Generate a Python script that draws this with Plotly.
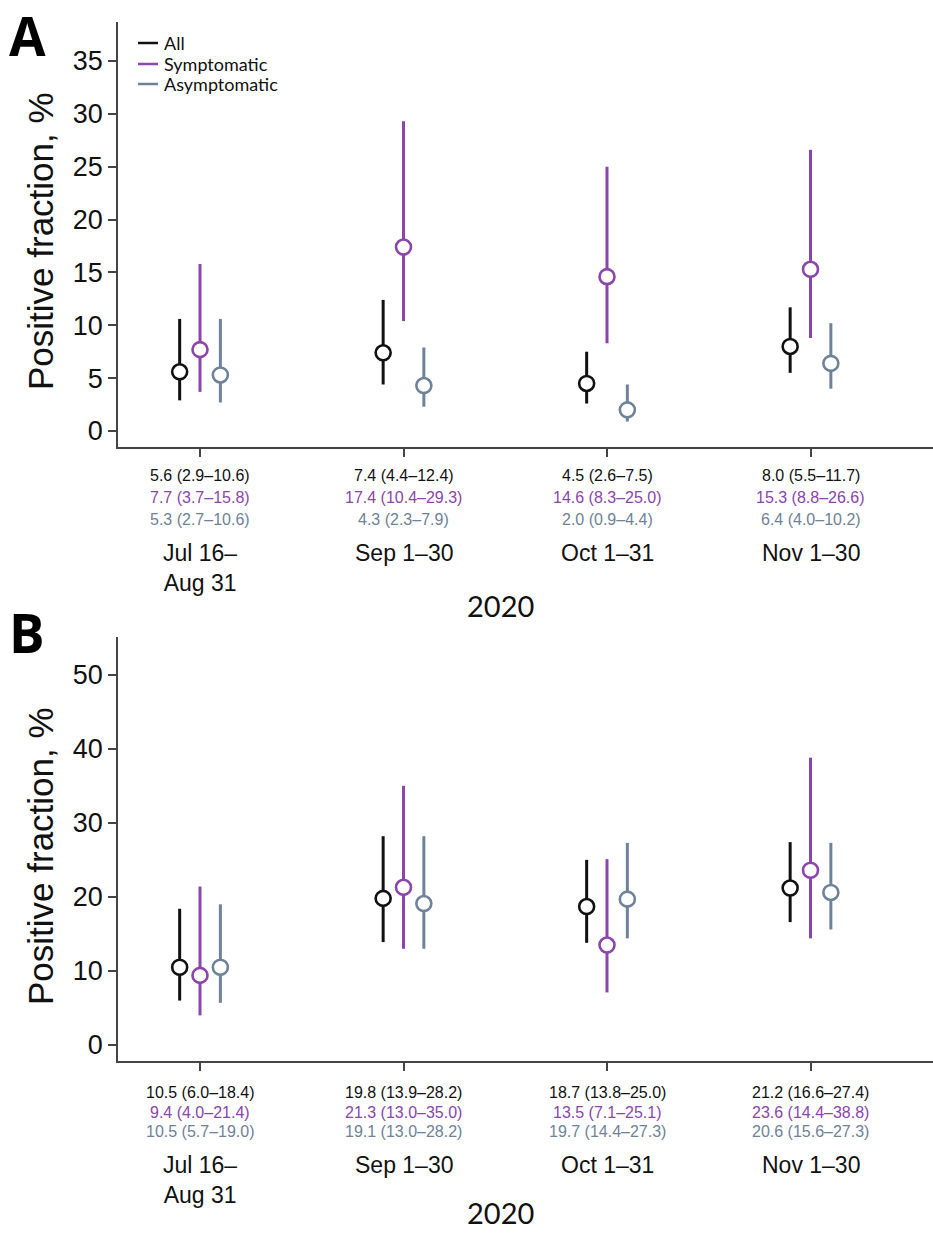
import plotly.graph_objects as go
import numpy as np

# ---------------- data ----------------
categories = ["Jul 16–<br>Aug 31", "Sep 1–30", "Oct 1–31", "Nov 1–30"]
series_names = ["All", "Symptomatic", "Asymptomatic"]

# Panel A
a_all = [5.6, 7.4, 4.5, 8.0]
a_all_lo = [2.9, 4.4, 2.6, 5.5]
a_all_hi = [10.6, 12.4, 7.5, 11.7]
a_sym = [7.7, 17.4, 14.6, 15.3]
a_sym_lo = [3.7, 10.4, 8.3, 8.8]
a_sym_hi = [15.8, 29.3, 25.0, 26.6]
a_asym = [5.3, 4.3, 2.0, 6.4]
a_asym_lo = [2.7, 2.3, 0.9, 4.0]
a_asym_hi = [10.6, 7.9, 4.4, 10.2]

# Panel B
b_all = [10.5, 19.8, 18.7, 21.2]
b_all_lo = [6.0, 13.9, 13.8, 16.6]
b_all_hi = [18.4, 28.2, 25.0, 27.4]
b_sym = [9.4, 21.3, 13.5, 23.6]
b_sym_lo = [4.0, 13.0, 7.1, 14.4]
b_sym_hi = [21.4, 35.0, 25.1, 38.8]
b_asym = [10.5, 19.1, 19.7, 20.6]
b_asym_lo = [5.7, 13.0, 14.4, 15.6]
b_asym_hi = [19.0, 28.2, 27.3, 27.3]

a_ticks = [0, 5, 10, 15, 20, 25, 30, 35]
b_ticks = [0, 10, 20, 30, 40, 50]

# ---------------- styling ----------------
W, H = 933, 1233
colors = ["#111111", "#8B45AB", "#6E8299"]
offsets = [-0.1, 0.0, 0.1]
AX = "#444444"
NUMFONT = "Liberation Sans, Arial, sans-serif"
CALFONT = "Lato, Carlito, sans-serif"


def py(pix):
    return 1 - pix / H


fig = go.Figure()

panels = [
    dict(x="x", y="y",
         series=[(a_all, a_all_lo, a_all_hi), (a_sym, a_sym_lo, a_sym_hi), (a_asym, a_asym_lo, a_asym_hi)]),
    dict(x="x2", y="y2",
         series=[(b_all, b_all_lo, b_all_hi), (b_sym, b_sym_lo, b_sym_hi), (b_asym, b_asym_lo, b_asym_hi)]),
]

idx = np.arange(len(categories))
for p in panels:
    for k, (v, lo, hi) in enumerate(p["series"]):
        v = np.array(v); lo = np.array(lo); hi = np.array(hi)
        fig.add_trace(go.Scatter(
            x=idx + offsets[k], y=v, xaxis=p["x"], yaxis=p["y"],
            mode="markers", name=series_names[k], showlegend=False,
            marker=dict(size=15, color="white", line=dict(color=colors[k], width=2.6)),
            error_y=dict(type="data", symmetric=False, array=hi - v, arrayminus=v - lo,
                         width=0, thickness=3, color=colors[k]),
        ))

xcommon = dict(range=[-0.403, 3.602], tickvals=list(idx), showticklabels=False,
               ticks="outside", ticklen=8, tickwidth=1.5, tickcolor=AX,
               showline=True, linecolor=AX, linewidth=1.5, showgrid=False, zeroline=False)
ycommon = dict(ticks="outside", ticklen=8, tickwidth=1.5, tickcolor=AX,
               showline=True, linecolor=AX, linewidth=1.5, showgrid=False, zeroline=False,
               tickfont=dict(family=NUMFONT, size=27, color="#111"))

fig.update_layout(
    width=W, height=H, margin=dict(l=0, r=0, t=0, b=0),
    paper_bgcolor="white", plot_bgcolor="white", showlegend=False,
    xaxis=dict(domain=[118 / W, 1], anchor="y", **xcommon),
    yaxis=dict(domain=[py(447), py(22)], anchor="x", range=[-1.513, 38.69], tickvals=a_ticks, **ycommon),
    xaxis2=dict(domain=[118 / W, 1], anchor="y2", **xcommon),
    yaxis2=dict(domain=[py(1061), py(637)], anchor="x2", range=[-2.16, 55.1], tickvals=b_ticks, **ycommon),
)

ann = []
# value rows and category labels
row_pix = {"x": [475, 497, 519], "x2": [1092, 1112, 1131]}
cat_pix = {"x": 551, "x2": 1163}
for p in panels:
    for k, (v, lo, hi) in enumerate(p["series"]):
        for i in idx:
            ann.append(dict(x=i, y=py(row_pix[p["x"]][k]), xref=p["x"], yref="paper",
                            text=f"{v[i]:.1f} ({lo[i]:.1f}–{hi[i]:.1f})", showarrow=False,
                            xanchor="center", yanchor="middle",
                            font=dict(family=NUMFONT, size=16, color=colors[k])))
    for i in idx:
        ann.append(dict(x=i, y=py(cat_pix[p["x"]] - 13), xref=p["x"], yref="paper",
                        text=categories[i], showarrow=False, xanchor="center", yanchor="top",
                        font=dict(family=NUMFONT, size=23, color="#111")))

# year labels
for ypix in [605, 1212]:
    ann.append(dict(x=500 / W, y=py(ypix), xref="paper", yref="paper", text="2020",
                    showarrow=False, xanchor="center", yanchor="middle",
                    font=dict(family=CALFONT, size=29, color="#111")))

# y titles
for ypix in [241, 856]:
    ann.append(dict(x=40 / W, y=py(ypix), xref="paper", yref="paper", text="Positive fraction, %",
                    textangle=-90, showarrow=False, xanchor="center", yanchor="middle",
                    font=dict(family=NUMFONT, size=35, color="#111")))

# panel letters
for letter, ypix in [("A", 35), ("B", 632)]:
    ann.append(dict(x=27 / W, y=py(ypix), xref="paper", yref="paper", text=f"<b>{letter}</b>",
                    showarrow=False, xanchor="center", yanchor="middle",
                    font=dict(family="Open Sans, Liberation Sans, sans-serif", size=53, color="black")))

# legend
shapes = []
for k, (name, ypix) in enumerate(zip(series_names, [43, 64, 84])):
    shapes.append(dict(type="line", xref="paper", yref="paper", x0=138 / W, x1=158 / W,
                       y0=py(ypix), y1=py(ypix), line=dict(color=colors[k], width=2.5)))
    ann.append(dict(x=162 / W, y=py(ypix), xref="paper", yref="paper", text=name,
                    showarrow=False, xanchor="left", yanchor="middle",
                    font=dict(family=CALFONT, size=18, color="#111")))

fig.update_layout(annotations=ann, shapes=shapes)
fig.write_html("out.html", config={"displayModeBar": False},
               post_script="document.body.style.margin='0';document.body.style.padding='0';")
